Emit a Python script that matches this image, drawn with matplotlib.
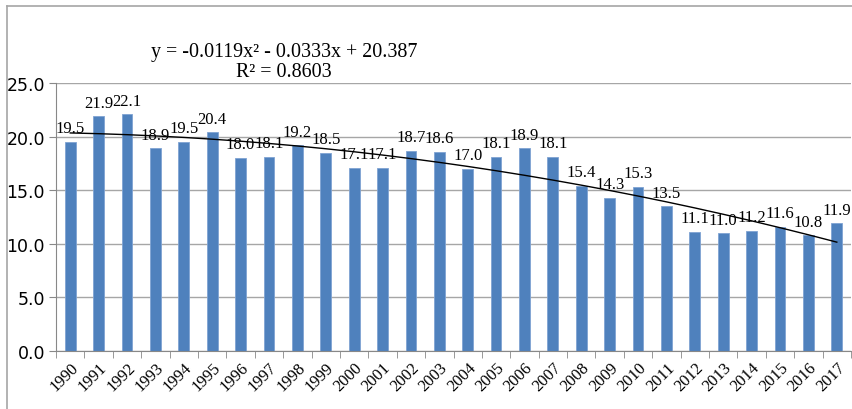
import numpy as np
import matplotlib.pyplot as plt
from matplotlib.lines import Line2D

years = list(range(1990, 2018))
values = [19.5, 21.9, 22.1, 18.9, 19.5, 20.4, 18.0, 18.1, 19.2, 18.5,
          17.1, 17.1, 18.7, 18.6, 17.0, 18.1, 18.9, 18.1, 15.4, 14.3,
          15.3, 13.5, 11.1, 11.0, 11.2, 11.6, 10.8, 11.9]
eq_text = "y = -0.0119x² - 0.0333x + 20.387"
r2_text = "R² = 0.8603"

serif = ['Liberation Serif', 'DejaVu Serif']

fig = plt.figure(figsize=(8.53, 4.10), dpi=100)
ax = fig.add_axes([56/853, 58/410, 795/853, 268/410])

x = np.arange(len(years))
ax.bar(x, values, width=0.38, color='#4F81BD', edgecolor='#7FA3D3', linewidth=0.6, zorder=2)

# polynomial trendline (order 2), like Excel
xi = x + 1
coef = np.polyfit(xi, values, 2)
ax.plot(x, np.polyval(coef, xi), color='black', linewidth=1.0, zorder=3)

for xx, v in zip(x, values):
    ax.annotate(f"{v:.1f}", (xx, v), xytext=(0, 4), textcoords='offset points',
                ha='center', va='bottom', fontsize=12, family=serif, zorder=4)

ax.set_xlim(-0.5, len(years) - 0.5)
ax.set_ylim(0, 25)
ax.set_yticks(np.arange(0, 26, 5))
ax.set_yticklabels([f"{t:.1f}" for t in np.arange(0, 26, 5)], fontsize=12.5)
ax.set_xticks(x)
ax.set_xticklabels(years, rotation=45, ha='right', rotation_mode='anchor',
                   fontsize=12, family=serif)
ax.set_xticks(np.arange(-0.5, len(years)), minor=True)
ax.tick_params(axis='x', which='major', length=0, pad=6)
ax.tick_params(axis='x', which='minor', length=5, color='#888888')
ax.tick_params(axis='y', length=5, color='#888888', pad=3)

ax.yaxis.grid(True, color='#a6a6a6', linewidth=1.0, zorder=0)
ax.set_axisbelow(True)
for s in ['top', 'right']:
    ax.spines[s].set_visible(False)
ax.spines['left'].set_color('#888888')
ax.spines['bottom'].set_color('#888888')

fig.text(284/853, 1 - 52/410, eq_text, ha='center', va='center', fontsize=14.4, family=serif)
fig.text(284/853, 1 - 73/410, r2_text, ha='center', va='center', fontsize=14.4, family=serif)

# outer chart frame
fig.add_artist(Line2D([7/853, 1], [1 - 7/410, 1 - 7/410], color='#a6a6a6', linewidth=1.2))
fig.add_artist(Line2D([7/853, 7/853], [0, 1 - 7/410], color='#a6a6a6', linewidth=1.2))

fig.savefig('out.png', dpi=100)
